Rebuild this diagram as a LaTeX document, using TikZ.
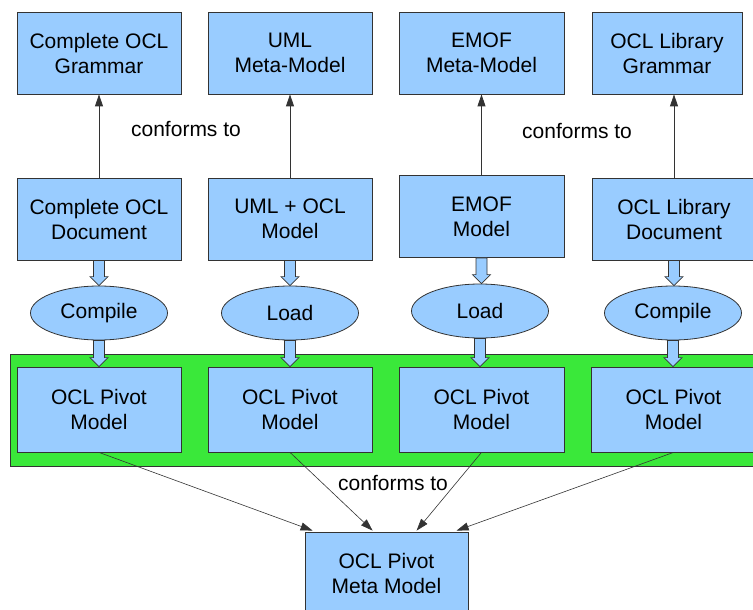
\documentclass[tikz,border=0pt]{standalone}
\usepackage{fontspec}
\setmainfont{Liberation Sans}
\definecolor{boxblue}{HTML}{99CCFF}
\definecolor{pgreen}{HTML}{3AE83A}
\definecolor{edge}{HTML}{333333}
\usetikzlibrary{arrows.meta}
\usetikzlibrary{shapes.geometric}
\usetikzlibrary{calc}

\begin{document}
\begin{tikzpicture}[x=1pt,y=-1pt,
	font=\fontsize{21}{25}\selectfont,
	modelbox/.style={draw=edge,fill=boxblue,line width=0.8pt,minimum width=164pt,minimum height=82pt,align=center,inner sep=0pt},
	actbox/.style={ellipse,draw=edge,fill=boxblue,line width=0.8pt,minimum width=137pt,minimum height=54pt,inner sep=0pt},
	conf/.style={draw=edge,line width=0.8pt,-{Triangle[length=12pt,width=8pt]}},
	flow/.style={draw=edge,fill=boxblue,line width=0.7pt}]
	\useasboundingbox (0,0) rectangle (753,610);
	% block arrow from one node down to the next
	\newcommand{\flowarrow}[2]{\path[flow] let \p1=(#1.south), \p2=(#2.north) in
		(\x1-5.5pt,\y1) -- (\x1-5.5pt,\y2+9pt) -- (\x1-9pt,\y2+9pt) -- (\x1,\y2)
		-- (\x1+9pt,\y2+9pt) -- (\x1+5.5pt,\y2+9pt) -- (\x1+5.5pt,\y1) -- cycle;}
	% meta-models and grammars
	\node[modelbox] (gram1) at (99,53) {Complete OCL\\Grammar};
	\node[modelbox] (gram2) at (290,53) {UML\\Meta-Model};
	\node[modelbox,minimum width=165pt] (gram3) at (481.5,53) {EMOF\\Meta-Model};
	\node[modelbox,minimum width=150pt] (gram4) at (667,53) {OCL Library\\Grammar};
	% documents and models
	\node[modelbox] (doc1) at (99,219) {Complete OCL\\Document};
	\node[modelbox] (doc2) at (290,219) {UML + OCL\\Model};
	\node[modelbox,minimum width=165pt] (doc3) at (481.5,216.5) {EMOF\\Model};
	\node[modelbox] (doc4) at (674,219) {OCL Library\\Document};
	% actions
	\node[actbox] (act1) at (99,313) {Compile};
	\node[actbox] (act2) at (290,313) {Load};
	\node[actbox] (act3) at (480,311) {Load};
	\node[actbox] (act4) at (673,313) {Compile};
	% pivot models
	\fill[pgreen,draw=edge,line width=0.8pt] (10,354) rectangle (770,466);
	\node[modelbox,minimum height=85pt] (piv1) at (99,409.5) {OCL Pivot\\Model};
	\node[modelbox,minimum height=85pt] (piv2) at (290,409.5) {OCL Pivot\\Model};
	\node[modelbox,minimum height=85pt,minimum width=165pt] (piv3) at (481.5,409.5) {OCL Pivot\\Model};
	\node[modelbox,minimum height=85pt] (piv4) at (673.5,409.5) {OCL Pivot\\Model};
	\node[modelbox,minimum width=163pt] (meta) at (386.5,573) {OCL Pivot\\Meta Model};
	\foreach \i in {1,...,4}{
		\draw[conf] (doc\i.north) -- (doc\i.north |- gram\i.south);
		\flowarrow{doc\i}{act\i}
		\flowarrow{act\i}{piv\i}
	}
	% arrow ends on the meta model
	\coordinate (in1) at ($(meta.north west)+(8,-1)$);
	\coordinate (in2) at ($(meta.north west)+(68,-1)$);
	\coordinate (in3) at ($(meta.north west)+(112,-1)$);
	\coordinate (in4) at ($(meta.north west)+(152,-1)$);
	\foreach \i in {1,...,4}
	\draw[conf,line width=0.6pt] (piv\i.south) -- (in\i);
	% labels
	\node (lab1) at (186,129) {conforms to};
	\node (lab2) at (577,131) {conforms to};
	\node (lab3) at (393,483) {conforms to};
\end{tikzpicture}
\end{document}
